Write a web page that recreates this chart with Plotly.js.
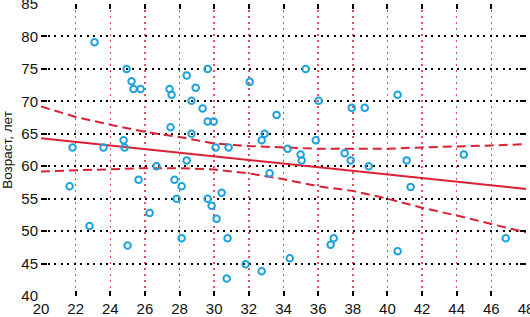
<!DOCTYPE html>
<html><head><meta charset="utf-8">
<script src="https://cdn.plot.ly/plotly-3.0.1.min.js"></script>
<style>html,body{margin:0;padding:0;background:#fff}#chart{width:530px;height:317px}</style>
</head><body><div id="chart"></div>
<script>
// Scatter data: x (independent variable), age in years
const xVals = [23.09,24.94,25.23,25.34,25.75,27.42,27.54,27.48,21.82,23.61,24.77,24.82,
  28.41,28.93,28.69,29.62,29.33,29.62,29.97,28.69,30.08,30.83,32.05,35.28,36.03,33.60,
  32.91,32.74,34.24,34.99,35.05,35.86,37.53,37.88,37.94,38.69,38.92,40.59,41.11,41.34,
  44.41,40.59,46.83,21.65,22.80,25.00,25.63,26.27,26.67,27.71,28.12,27.83,28.12,28.41,
  29.62,29.85,30.43,30.14,30.77,30.72,31.81,32.74,33.20,34.36,36.72,36.90];
const ageVals = [79.1,75.0,73.1,71.9,71.9,71.9,71.0,66.0,62.9,62.9,64.0,62.9,
  74.0,72.1,70.1,75.0,68.9,66.9,66.9,65.0,62.9,62.9,73.0,75.0,70.1,67.9,
  65.0,64.0,62.7,61.8,60.9,64.0,62.0,60.9,69.0,69.0,60.0,71.0,60.9,56.8,
  61.8,46.9,48.9,56.9,50.8,47.8,57.9,52.8,60.0,57.9,56.9,55.0,48.9,60.9,
  55.0,53.9,55.9,51.9,48.9,42.7,44.9,43.8,58.9,45.8,47.9,48.9];
// Regression line
const fitX = [20, 48];
const fitY = [64.3, 56.5];
// Confidence band
const bandX = [20,22,24,26,28,30,32,34,36,38,40,42,44,46,48];
const bandUpper = [69.2,67.6,66.4,65.3,64.5,63.5,63.1,62.9,62.7,62.7,62.7,62.9,63.0,63.2,63.4];
const bandLower = [59.2,59.4,59.5,59.7,59.7,59.5,58.9,58.0,56.9,56.2,55.0,53.6,52.4,51.1,49.8];
const xTicks = [20,22,24,26,28,30,32,34,36,38,40,42,44,46,48];
const yTicks = [40,45,50,55,60,65,70,75,80,85];
const yTitle = 'Возраст, лет';

const red = 'rgb(218,32,50)';
const blue = 'rgb(28,162,222)';
const traces = [
  {x: bandX, y: bandUpper, mode: 'lines', line: {color: red, width: 2, dash: '9px,5px'}, hoverinfo: 'skip'},
  {x: bandX, y: bandLower, mode: 'lines', line: {color: red, width: 2, dash: '9px,5px'}, hoverinfo: 'skip'},
  {x: fitX, y: fitY, mode: 'lines', line: {color: red, width: 2}},
  {x: xVals, y: ageVals, mode: 'markers', marker: {symbol: 'circle-open', size: 6.5, color: blue, line: {width: 2, color: blue}}}
];
const font = {family: 'Liberation Sans, Arial', size: 15, color: '#111'};
const titleFont = {family: 'Liberation Sans, Arial', size: 13.5, color: '#111'};
const layout = {
  width: 530, height: 317,
  margin: {l: 41, r: 4, t: 4, b: 21, pad: 0},
  showlegend: false,
  paper_bgcolor: '#fff', plot_bgcolor: '#fff',
  font: font,
  xaxis: {
    range: [20, 48], tickvals: xTicks, ticktext: xTicks.map(String),
    showgrid: true, gridcolor: 'rgb(222,80,95)', gridwidth: 1.5, griddash: '1.5px,4.5px',
    zeroline: false, showline: false,
    ticks: 'inside', ticklen: 5, tickwidth: 2, tickcolor: '#000', mirror: 'ticks',
    tickfont: font, automargin: false, ticklabeloverflow: 'allow', ticklabelstandoff: 2
  },
  yaxis: {
    range: [40, 85], tickvals: yTicks, ticktext: yTicks.map(String),
    showgrid: true, gridcolor: '#000', gridwidth: 2, griddash: '2px,4.5px',
    zeroline: false, showline: false,
    ticks: 'inside', ticklen: 6, tickwidth: 2, tickcolor: '#000', mirror: 'ticks',
    tickfont: font, automargin: false, ticklabeloverflow: 'allow', ticklabelstandoff: 2,
    title: {text: yTitle, font: titleFont}
  }
};
Plotly.newPlot('chart', traces, layout, {staticPlot: true, displayModeBar: false});
</script></body></html>
